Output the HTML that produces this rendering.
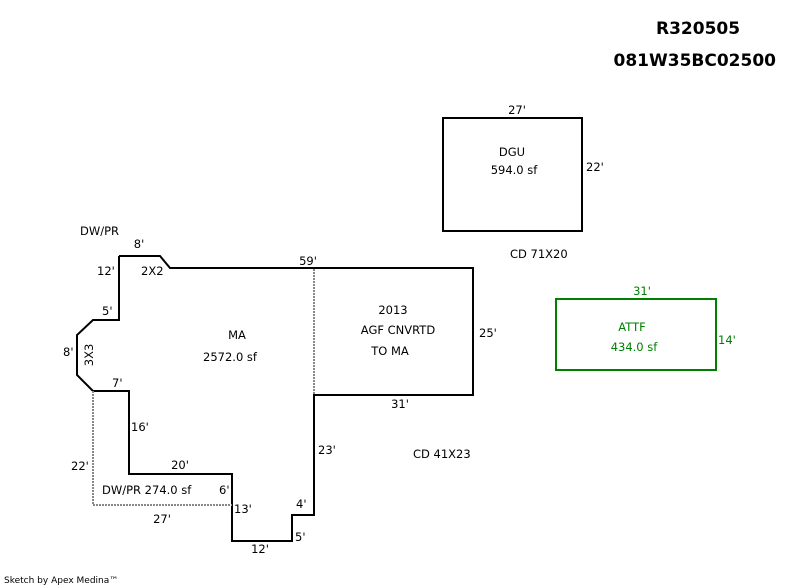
<!DOCTYPE html>
<html><head><meta charset="utf-8"><style>
html,body{margin:0;padding:0;background:#fff;}
svg{display:block;}
text{font-family:"DejaVu Sans","Liberation Sans",sans-serif;font-size:11.5px;fill:#000;}
.g{fill:#008000;}
.b{font-weight:bold;font-size:17px;}
</style></head><body>
<svg width="800" height="587" viewBox="0 0 800 587" xmlns="http://www.w3.org/2000/svg">
<g fill="none" stroke="#000" stroke-width="2">
<polyline points="119,256 160,256 170,268 473,268 473,395 314,395 314,515 292,515 292,541 232,541 232,474 129,474 129,391 93,391 77,375 77,335 93,320 119,320 119,256"/>
<rect x="443" y="118" width="139" height="113"/>
</g>
<rect x="556" y="299" width="160" height="71" fill="none" stroke="#008000" stroke-width="2"/>
<g fill="none" stroke="#888" stroke-width="2" stroke-dasharray="2,1">
<polyline points="93,391 93,505 232,505"/>
<line x1="314" y1="269" x2="314" y2="394"/>
</g>
<text class="b" x="656" y="34">R320505</text>
<text class="b" x="776" y="66" text-anchor="end">081W35BC02500</text>
<text x="80" y="235">DW/PR</text>
<text x="139" y="248" text-anchor="middle">8'</text>
<text x="97" y="275">12'</text>
<text x="141" y="275">2X2</text>
<text x="308" y="265" text-anchor="middle">59'</text>
<text x="102" y="315">5'</text>
<text x="237" y="339" text-anchor="middle">MA</text>
<text x="230" y="361" text-anchor="middle">2572.0 sf</text>
<text x="63" y="356">8'</text>
<text transform="translate(93,355) rotate(-90)" text-anchor="middle">3X3</text>
<text x="112" y="387">7'</text>
<text x="131" y="431">16'</text>
<text x="393" y="314" text-anchor="middle">2013</text>
<text x="398" y="334" text-anchor="middle">AGF CNVRTD</text>
<text x="390" y="355" text-anchor="middle">TO MA</text>
<text x="479" y="337">25'</text>
<text x="400" y="408" text-anchor="middle">31'</text>
<text x="318" y="454">23'</text>
<text x="413" y="458">CD 41X23</text>
<text x="71" y="470">22'</text>
<text x="180" y="469" text-anchor="middle">20'</text>
<text x="102" y="494">DW/PR  274.0 sf</text>
<text x="219" y="494">6'</text>
<text x="234" y="513">13'</text>
<text x="296" y="508">4'</text>
<text x="162" y="523" text-anchor="middle">27'</text>
<text x="295" y="541">5'</text>
<text x="260" y="553" text-anchor="middle">12'</text>
<text x="517" y="114" text-anchor="middle">27'</text>
<text x="512" y="156" text-anchor="middle">DGU</text>
<text x="514" y="174" text-anchor="middle">594.0 sf</text>
<text x="586" y="171">22'</text>
<text x="510" y="258">CD 71X20</text>
<text class="g" x="642" y="295" text-anchor="middle">31'</text>
<text class="g" x="632" y="331" text-anchor="middle">ATTF</text>
<text class="g" x="634" y="351" text-anchor="middle">434.0 sf</text>
<text class="g" x="718" y="344">14'</text>
<text x="4" y="583" style="font-size:9px">Sketch by Apex Medina™</text>
</svg>
</body></html>
